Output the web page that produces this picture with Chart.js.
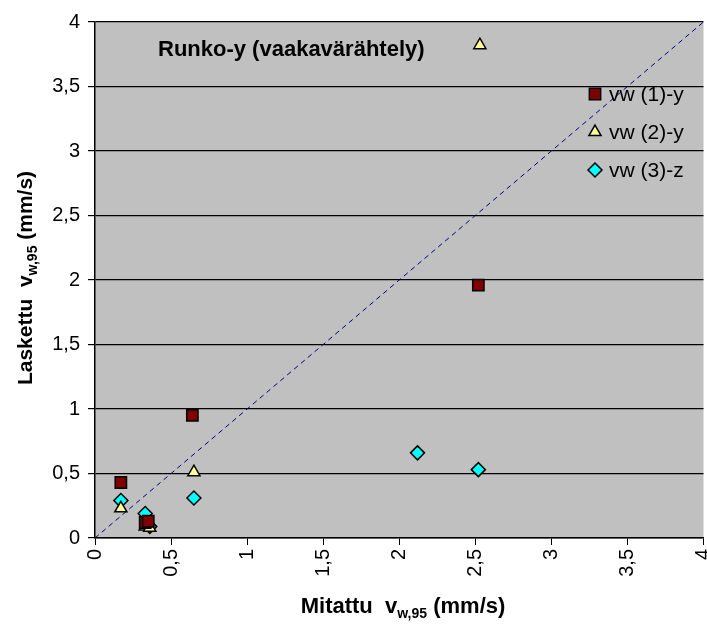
<!DOCTYPE html>
<html>
<head>
<meta charset="utf-8">
<script src="https://cdn.jsdelivr.net/npm/chart.js@4.4.1/dist/chart.umd.min.js"></script>
<style>
  html, body { margin: 0; padding: 0; background: #fff; overflow: hidden; }
  #wrap { width: 707px; height: 626px; overflow: hidden; }
</style>
</head>
<body>
<div id="wrap"><canvas id="chart" width="713" height="626"></canvas></div>
<script>
const s1x = [0.17, 0.64, 0.33, 0.35, 2.52];
const s1y = [0.43, 0.95, 0.12, 0.13, 1.96];
const s2x = [0.17, 0.65, 0.33, 0.36, 2.53];
const s2y = [0.23, 0.51, 0.09, 0.08, 3.82];
const s3x = [0.17, 0.33, 0.36, 0.65, 2.12, 2.52];
const s3y = [0.29, 0.19, 0.09, 0.31, 0.66, 0.53];
const seriesLabels = ["vw (1)-y", "vw (2)-y", "vw (3)-z"];
const refLine = [0, 4];
const tickValues = [0, 0.5, 1, 1.5, 2, 2.5, 3, 3.5, 4];

const FONT = "'Liberation Sans', Arial, sans-serif";

function pts(xs, ys) {
    return xs.map((x, i) => ({ x: x, y: ys[i] }));
}
function fmt(v) {
    return String(v).replace(".", ",");
}

// Grey plot area
const plotBg = {
    id: "plotBg",
    beforeDraw(chart) {
        const a = chart.chartArea;
        const ctx = chart.ctx;
        ctx.save();
        ctx.fillStyle = "#C0C0C0";
        ctx.fillRect(a.left, a.top, a.right - a.left, a.bottom - a.top);
        ctx.restore();
    }
};

// text made of pieces, some lowered as subscript
function subText(ctx, parts, cx, cy, rotate) {
    ctx.save();
    ctx.translate(cx, cy);
    if (rotate) ctx.rotate(-Math.PI / 2);
    let total = 0;
    parts.forEach(p => { ctx.font = p.font; total += ctx.measureText(p.t).width; });
    let x = -total / 2;
    ctx.textBaseline = "middle";
    ctx.fillStyle = "#000";
    parts.forEach(p => {
        ctx.font = p.font;
        ctx.fillText(p.t, x, p.dy || 0);
        x += ctx.measureText(p.t).width;
    });
    ctx.restore();
}

const overlay = {
    id: "overlay",
    afterDraw(chart) {
        const ctx = chart.ctx;
        const small = "bold 14px " + FONT;
        subText(ctx, [
            { t: "Mitattu  v", font: "bold 22px " + FONT },
            { t: "w,95", font: small, dy: 7 },
            { t: " (mm/s)", font: "bold 22px " + FONT }
        ], 403, 607, false);
        subText(ctx, [
            { t: "Laskettu  v", font: "bold 21px " + FONT },
            { t: "w,95", font: small, dy: 7 },
            { t: " (mm/s)", font: "bold 21px " + FONT }
        ], 26, 278, true);

        ctx.save();
        ctx.font = "bold 22px " + FONT;
        ctx.fillStyle = "#000";
        ctx.textBaseline = "middle";
        ctx.fillText("Runko-y (vaakavärähtely)", 158, 50);

        // legend
        const rows = [94, 132, 170];
        ctx.font = "21px " + FONT;
        chart.data.datasets.slice(0, 3).forEach((ds, i) => {
            const y = rows[i];
            ctx.fillStyle = ds.backgroundColor;
            ctx.strokeStyle = ds.borderColor;
            ctx.lineWidth = ds.borderWidth;
            Chart.helpers.drawPoint(ctx, {
                pointStyle: ds.pointStyle,
                radius: ds.pointRadius,
                borderWidth: ds.borderWidth
            }, 595, y);
            ctx.fillStyle = "#000";
            ctx.fillText(seriesLabels[i], 609, y + 1);
        });
        ctx.restore();
    }
};

function markerSet(label, data, style, color, r) {
    return {
        type: "scatter",
        label: label,
        data: data,
        pointStyle: style,
        pointRadius: r,
        pointHoverRadius: r,
        backgroundColor: color,
        borderColor: "#000",
        borderWidth: 1.5
    };
}

new Chart(document.getElementById("chart"), {
    type: "scatter",
    data: {
        datasets: [
            markerSet(seriesLabels[0], pts(s1x, s1y), "rect", "#800000", 8),
            markerSet(seriesLabels[1], pts(s2x, s2y), "triangle", "#FFFF99", 7),
            markerSet(seriesLabels[2], pts(s3x, s3y), "rectRot", "#00FFFF", 7),
            {
                type: "line",
                label: "y = x",
                data: pts(refLine, refLine),
                borderColor: "#000080",
                borderWidth: 1,
                borderDash: [5, 4],
                pointRadius: 0,
                fill: false
            }
        ]
    },
    options: {
        responsive: false,
        animation: false,
        layout: { padding: { top: 22, right: 0, left: 0, bottom: 0 } },
        plugins: {
            legend: { display: false },
            tooltip: { enabled: false },
            title: { display: false }
        },
        scales: {
            x: {
                type: "linear",
                min: 0,
                max: 4,
                afterFit(scale) {
                    scale.height = 88;
                    scale.paddingLeft = 0;
                    scale.paddingRight = 0;
                },
                afterBuildTicks(scale) { scale.ticks = tickValues.map(v => ({ value: v })); },
                grid: { drawOnChartArea: false, color: "#000", tickLength: 7 },
                border: { color: "#000", width: 1.5 },
                ticks: {
                    minRotation: 90,
                    maxRotation: 90,
                    color: "#000",
                    font: { family: FONT, size: 20 },
                    padding: 4,
                    callback: v => fmt(v)
                }
            },
            y: {
                type: "linear",
                min: 0,
                max: 4,
                afterFit(scale) {
                    scale.width = 95;
                    scale.paddingTop = 0;
                    scale.paddingBottom = 0;
                },
                afterBuildTicks(scale) { scale.ticks = tickValues.map(v => ({ value: v })); },
                grid: { color: "#000", lineWidth: 1.2, tickLength: 7 },
                border: { color: "#000", width: 1.5 },
                ticks: {
                    color: "#000",
                    font: { family: FONT, size: 20 },
                    padding: 8,
                    callback: v => fmt(v)
                }
            }
        }
    },
    plugins: [plotBg, overlay]
});
</script>
</body>
</html>
